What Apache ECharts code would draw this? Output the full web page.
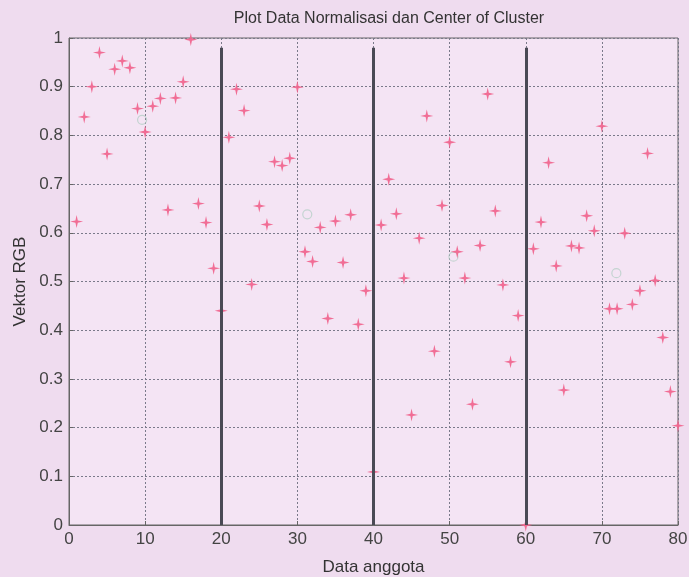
<!DOCTYPE html>
<html>
<head>
<meta charset="utf-8">
<script src="https://cdn.jsdelivr.net/npm/echarts@6/dist/echarts.min.js"></script>
<style>
html,body{margin:0;padding:0;background:#efdcef;}
#c{width:689px;height:577px;}
</style>
</head>
<body>
<div id="c"></div>
<script>
// Data anggota (index) and Vektor RGB values
const xIndex = [];
for (let i = 1; i <= 80; i++) xIndex.push(i);
const rgbValues = [
  0.623, 0.838, 0.900, 0.970, 0.762, 0.936, 0.953, 0.939, 0.855, 0.807,
  0.860, 0.876, 0.647, 0.877, 0.910, 0.997, 0.660, 0.621, 0.527, 0.440,
  0.796, 0.895, 0.851, 0.494, 0.655, 0.617, 0.746, 0.738, 0.753, 0.899,
  0.561, 0.541, 0.611, 0.424, 0.624, 0.539, 0.637, 0.412, 0.481, 0.109,
  0.616, 0.710, 0.639, 0.507, 0.226, 0.589, 0.840, 0.357, 0.656, 0.786,
  0.561, 0.507, 0.248, 0.574, 0.885, 0.645, 0.493, 0.335, 0.430, 0.000,
  0.567, 0.622, 0.744, 0.532, 0.277, 0.573, 0.569, 0.635, 0.604, 0.819,
  0.444, 0.444, 0.599, 0.453, 0.481, 0.763, 0.502, 0.385, 0.274, 0.204
];
// Cluster centers (faint circles)
const centerX = [9.6, 31.3, 50.5, 71.9];
const centerY = [0.832, 0.638, 0.551, 0.517];
// Cluster dividers
const dividerX = [20, 40, 60];
const dividerTop = 0.98;
// Tick labels
const xTicks = [0, 10, 20, 30, 40, 50, 60, 70, 80];
const yTicks = ['0', '0.1', '0.2', '0.3', '0.4', '0.5', '0.6', '0.7', '0.8', '0.9', '1'];

const points = xIndex.map((x, i) => [x, rgbValues[i]]);
const centers = centerX.map((x, i) => [x, centerY[i]]);
const lines = dividerX.map(x => [{coord: [x, 0]}, {coord: [x, dividerTop]}]);

const chart = echarts.init(document.getElementById('c'));
const font = 'Liberation Sans, Arial, sans-serif';
chart.setOption({
  backgroundColor: '#efdcef',
  animation: false,
  title: {
    text: 'Plot Data Normalisasi dan Center of Cluster',
    left: 384, top: 6, textAlign: 'center',
    textStyle: {fontFamily: font, fontSize: 16, fontWeight: 'normal', color: '#333'}
  },
  grid: {left: 69, right: 11, top: 38, bottom: 52, show: true, containLabel: false,
         outerBoundsMode: 'none',
         backgroundColor: '#f4e4f4', borderColor: '#666', borderWidth: 1},
  xAxis: {
    type: 'value', min: 0, max: 80, interval: 10,
    name: 'Data anggota', nameLocation: 'middle', nameGap: 34,
    nameTextStyle: {fontFamily: font, fontSize: 17, color: '#333'},
    axisLine: {show: true, lineStyle: {color: '#666', width: 1}},
    axisTick: {inside: true, length: 4, lineStyle: {color: '#666'}},
    axisLabel: {fontFamily: font, fontSize: 17, color: '#444', margin: 6,
                formatter: v => String(xTicks[Math.round(v / 10)])},
    splitLine: {show: true, lineStyle: {color: '#7a7a8a', type: [2, 2], width: 1}}
  },
  yAxis: {
    type: 'value', min: 0, max: 1, interval: 0.1,
    name: 'Vektor RGB', nameLocation: 'middle', nameGap: 40,
    nameTextStyle: {fontFamily: font, fontSize: 17, color: '#333'},
    axisLine: {show: true, lineStyle: {color: '#666', width: 1}},
    axisTick: {inside: true, length: 4, lineStyle: {color: '#666'}},
    axisLabel: {fontFamily: font, fontSize: 17, color: '#444', margin: 6,
                formatter: v => yTicks[Math.round(v * 10)]},
    splitLine: {show: true, lineStyle: {color: '#7a7a8a', type: [2, 2], width: 1}}
  },
  series: [
    {
      type: 'scatter', data: points,
      symbol: 'path://M0,-10 L1.8,-1.8 L10,0 L1.8,1.8 L0,10 L-1.8,1.8 L-10,0 L-1.8,-1.8Z',
      symbolSize: 13,
      itemStyle: {color: '#f0668f', opacity: 0.95},
      markLine: {
        silent: true, symbol: 'none', label: {show: false},
        lineStyle: {color: '#4a4a55', width: 3, type: 'solid'},
        data: lines
      },
      z: 3
    },
    {
      type: 'scatter', data: centers, symbol: 'circle', symbolSize: 9,
      itemStyle: {color: 'transparent', borderColor: '#b8d0c8', borderWidth: 1.2},
      z: 2
    }
  ]
});
</script>
</body>
</html>
